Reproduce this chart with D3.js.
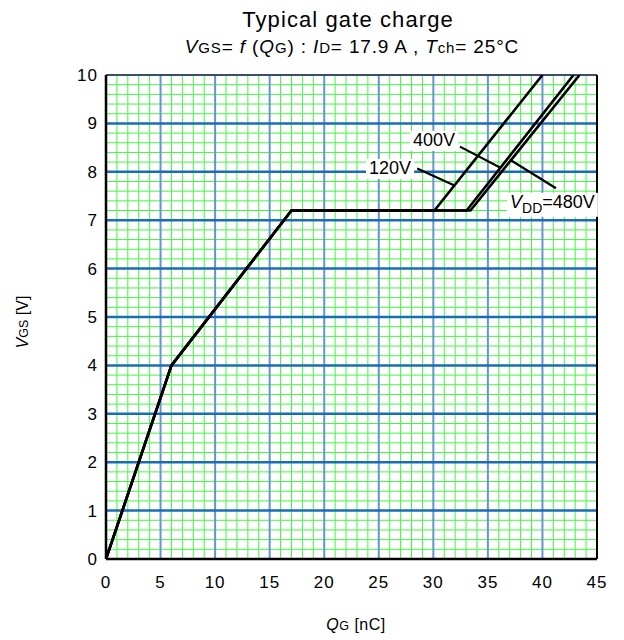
<!DOCTYPE html>
<html>
<head>
<meta charset="utf-8">
<script src="https://cdn.jsdelivr.net/npm/d3@7"></script>
<style>
  body { margin: 0; background: #fff; }
  text { font-family: "Liberation Sans", Arial, sans-serif; fill: #000; }
</style>
</head>
<body>
<svg id="chart" width="624" height="640"></svg>
<script>
// gate charge curves, [Q_G nC, V_GS V]
const curve120 = [[0, 0], [6, 4], [17, 7.2], [30.1, 7.2], [40.0, 10]];
const curve400 = [[0, 0], [6, 4], [17, 7.2], [33.05, 7.2], [42.85, 10]];
const curve480 = [[0, 0], [6, 4], [17, 7.2], [33.4, 7.2], [43.4, 10]];
const series = [curve120, curve400, curve480];

const xTicks = [0, 5, 10, 15, 20, 25, 30, 35, 40, 45];
const yTicks = [0, 1, 2, 3, 4, 5, 6, 7, 8, 9, 10];

// labels: text position and leader line (data units)
const labels = [
  { text: "400V", q: 30.06, v: 8.67, from: [32.44, 8.52], to: [36.11, 8.09] },
  { text: "120V", q: 26.03, v: 8.09, from: [28.52, 8.07], to: [31.99, 7.71] },
  { text: "=480V", q: 37.03, v: 7.38, from: [41.24, 7.66], to: [37.03, 8.25], vdd: true }
];

const svg = d3.select("#chart");
const m = { left: 106, top: 75, right: 27, bottom: 81 };
const W = 624 - m.left - m.right, H = 640 - m.top - m.bottom;

const x = d3.scaleLinear().domain([0, 45]).range([0, W]);
const y = d3.scaleLinear().domain([0, 10]).range([H, 0]);

const g = svg.append("g").attr("transform", `translate(${m.left},${m.top})`);

// minor grid
g.selectAll(".vminor").data(d3.range(1, 45).filter(d => d % 5 !== 0))
  .enter().append("line")
  .attr("x1", d => x(d)).attr("x2", d => x(d)).attr("y1", 0).attr("y2", H)
  .style("stroke", "#45f545").style("stroke-width", 1);
g.selectAll(".hminor").data(d3.range(1, 50).filter(d => d % 5 !== 0).map(d => d / 5))
  .enter().append("line")
  .attr("x1", 0).attr("x2", W).attr("y1", d => y(d)).attr("y2", d => y(d))
  .style("stroke", "#45f545").style("stroke-width", 1);

// major grid
g.selectAll(".vmajor").data(xTicks.slice(1, -1))
  .enter().append("line")
  .attr("x1", d => x(d)).attr("x2", d => x(d)).attr("y1", 0).attr("y2", H)
  .style("stroke", "#6594d2").style("stroke-width", 2);
g.selectAll(".hmajor").data(yTicks.slice(1, -1))
  .enter().append("line")
  .attr("x1", 0).attr("x2", W).attr("y1", d => y(d)).attr("y2", d => y(d))
  .style("stroke", "#1b6cb8").style("stroke-width", 2.5);

// frame
g.append("line").attr("x1", 0).attr("x2", W).attr("y1", 0).attr("y2", 0)
  .style("stroke", "#3a4f66").style("stroke-width", 2);
g.append("line").attr("x1", W).attr("x2", W).attr("y1", 0).attr("y2", H)
  .style("stroke", "#000").style("stroke-width", 2);
g.append("line").attr("x1", 0).attr("x2", W).attr("y1", H).attr("y2", H)
  .style("stroke", "#000").style("stroke-width", 2.5);
g.append("line").attr("x1", 0).attr("x2", 0).attr("y1", 0).attr("y2", H)
  .style("stroke", "#000").style("stroke-width", 2.5);

// curves
svg.append("defs").append("clipPath").attr("id", "clip")
  .append("rect").attr("width", W).attr("height", H);
const line = d3.line().x(d => x(d[0])).y(d => y(d[1]));
g.append("g").attr("clip-path", "url(#clip)")
  .selectAll("path").data(series).enter().append("path")
  .attr("d", line)
  .style("fill", "none").style("stroke", "#000").style("stroke-width", 2.6)
  .style("stroke-linejoin", "miter");

// tick labels
g.selectAll(".xt").data(xTicks).enter().append("text")
  .attr("x", d => x(d)).attr("y", H + 29)
  .attr("text-anchor", "middle").style("font-size", "17px").style("letter-spacing", "1px")
  .text(d => d);
g.selectAll(".yt").data(yTicks).enter().append("text")
  .attr("x", -8).attr("y", d => y(d) + 6)
  .attr("text-anchor", "end").style("font-size", "17px").style("letter-spacing", "1px")
  .text(d => d);

// annotations
labels.forEach(l => {
  g.append("line")
    .attr("x1", x(l.from[0])).attr("y1", y(l.from[1]))
    .attr("x2", x(l.to[0])).attr("y2", y(l.to[1]))
    .style("stroke", "#000").style("stroke-width", 2.2);
  const t = g.append("text").style("font-size", "18px");
  if (l.vdd) {
    t.attr("x", x(l.q)).attr("y", y(l.v) + 6).attr("text-anchor", "start");
    t.append("tspan").style("font-style", "italic").text("V");
    t.append("tspan").attr("dy", 5).style("font-size", "14px").text("DD");
    t.append("tspan").attr("dy", -5).text(l.text);
  } else {
    t.attr("x", x(l.q)).attr("y", y(l.v) + 6.5).attr("text-anchor", "middle").text(l.text);
  }
  const b = t.node().getBBox();
  g.insert("rect", () => t.node())
    .attr("x", b.x - 3).attr("y", b.y + 1).attr("width", b.width + 6).attr("height", b.height)
    .style("fill", "#fff");
});

// title
svg.append("text").attr("x", 348).attr("y", 27).attr("text-anchor", "middle")
  .style("font-size", "22px").style("letter-spacing", "1.1px").text("Typical gate charge");

const sub = svg.append("text").attr("x", 352).attr("y", 53).attr("text-anchor", "middle")
  .style("font-size", "19px").style("letter-spacing", "0.85px");
const subParts = [
  ["V", "i"], ["GS", "s"], ["= ", ""], ["f", "i"], [" (", ""], ["Q", "i"], ["G", "s"], [") : ", ""],
  ["I", "i"], ["D", "s"], ["= 17.9 A , ", ""], ["T", "i"], ["ch", "s"], ["= 25°C", ""]
];
subParts.forEach(([s, k]) => {
  const ts = sub.append("tspan").text(s);
  if (k === "i") ts.style("font-style", "italic");
  if (k === "s") ts.style("font-size", "15px");
});

// axis titles
const xl = svg.append("text").attr("x", 356).attr("y", 630).attr("text-anchor", "middle")
  .style("font-size", "16px").style("letter-spacing", "0.5px");
xl.append("tspan").style("font-style", "italic").text("Q");
xl.append("tspan").style("font-size", "12.5px").text("G");
xl.append("tspan").text(" [nC]");

const yl = svg.append("text").attr("transform", "translate(28,322) rotate(-90)")
  .attr("text-anchor", "middle").style("font-size", "16px");
yl.append("tspan").style("font-style", "italic").text("V");
yl.append("tspan").style("font-size", "12.5px").text("GS");
yl.append("tspan").text(" [V]");
</script>
</body>
</html>
